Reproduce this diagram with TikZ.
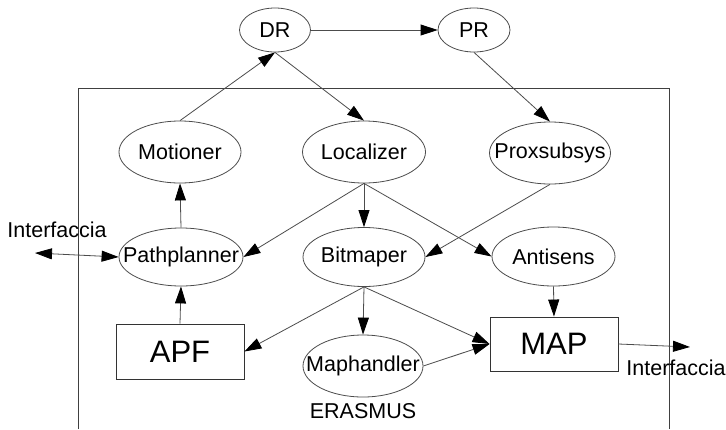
\documentclass[tikz,border=0pt]{standalone}
\usepackage{fontspec}
\setmainfont{Liberation Sans}
\usetikzlibrary{shapes.geometric,arrows.meta}
\begin{document}
\begin{tikzpicture}[x=1pt,y=-1pt,
  oval/.style={ellipse, draw=black!70, line width=0.8pt, inner sep=0pt,
    font=\fontsize{21.5}{24}\selectfont},
  blok/.style={rectangle, draw=black!80, line width=0.9pt, inner sep=0pt,
    font=\fontsize{31}{34}\selectfont},
  flow/.style={draw=black!70, line width=0.8pt,
    -{Triangle[length=17pt,width=11pt,color=black]}},
  both/.style={draw=black!70, line width=0.8pt,
    {Triangle[length=17pt,width=11pt,color=black]}-{Triangle[length=17pt,width=11pt,color=black]}},
  lbl/.style={inner sep=0pt, font=\fontsize{21.5}{24}\selectfont}]
\useasboundingbox (0,0) rectangle (726,429);
\fill[white] (0,0) rectangle (726,429);

% ERASMUS frame (open at the bottom)
\draw[black!75, line width=0.9pt] (78,429) -- (78,88) -- (669,88) -- (669,429);

% processes
\node[oval, minimum width=71pt,  minimum height=44pt] (dr)   at (275,30)    {\makebox[0pt]{DR}};
\node[oval, minimum width=72pt,  minimum height=44pt] (pr)   at (474,30)    {\makebox[0pt]{PR}};
\node[oval, minimum width=122pt, minimum height=62pt] (mot)  at (180,152)   {\makebox[0pt]{Motioner}};
\node[oval, minimum width=123pt, minimum height=62pt] (loc)  at (364,152)   {\makebox[0pt]{Localizer}};
\node[oval, minimum width=121pt, minimum height=62pt] (prox) at (550,153)   {\makebox[0pt]{Proxsubsys}};
\node[oval, minimum width=124pt, minimum height=58pt] (path) at (181,257)   {\makebox[0pt]{Pathplanner}};
\node[oval, minimum width=122pt, minimum height=59pt] (bit)  at (364,257)   {\makebox[0pt]{Bitmaper}};
\node[oval, minimum width=123pt, minimum height=59pt] (anti) at (553.5,256.5){\makebox[0pt]{Antisens}};
\node[oval, minimum width=120pt, minimum height=62pt] (maph) at (363,366)   {\makebox[0pt]{Maphandler}};

% data stores
\node[blok, minimum width=128pt, minimum height=55pt] (apf) at (180,351.5) {APF};
\node[blok, minimum width=128pt, minimum height=54pt] (map) at (554,344)   {MAP};

% labels
\node[lbl] (erasmus) at (363,411) {ERASMUS};
\node[lbl] (ifl) at (57,230) {Interfaccia};
\node[lbl] (ifr) at (676,368) {Interfaccia};

% free ends of the interface arrows
\coordinate (inL) at (35,253);
\coordinate (outR) at (690,347);

% connections
\draw[flow] (dr.east) -- (pr.west);
\draw[flow] (mot.north) -- (dr.south);
\draw[flow] (dr.south) -- (loc.north);
\draw[flow] (pr.south) -- (prox.north);
\draw[flow] (path.north) -- (mot.south);
\draw[flow] (loc.south) -- (path.east);
\draw[flow] (loc.south) -- (bit.north);
\draw[flow] (loc.south) -- (anti.west);
\draw[flow] (prox.south) -- (bit.east);
\draw[flow] (bit.south) -- (apf.east);
\draw[flow] (bit.south) -- (maph.north);
\draw[flow] (bit.south) -- (map.west);
\draw[flow] (maph.east) -- (map.west);
\draw[flow] (anti.south) -- (map.north);
\draw[flow] (apf.north) -- (path.south);
\draw[both] (inL) -- (path.west);
\draw[flow] (map.east) -- (outR);
\end{tikzpicture}
\end{document}
